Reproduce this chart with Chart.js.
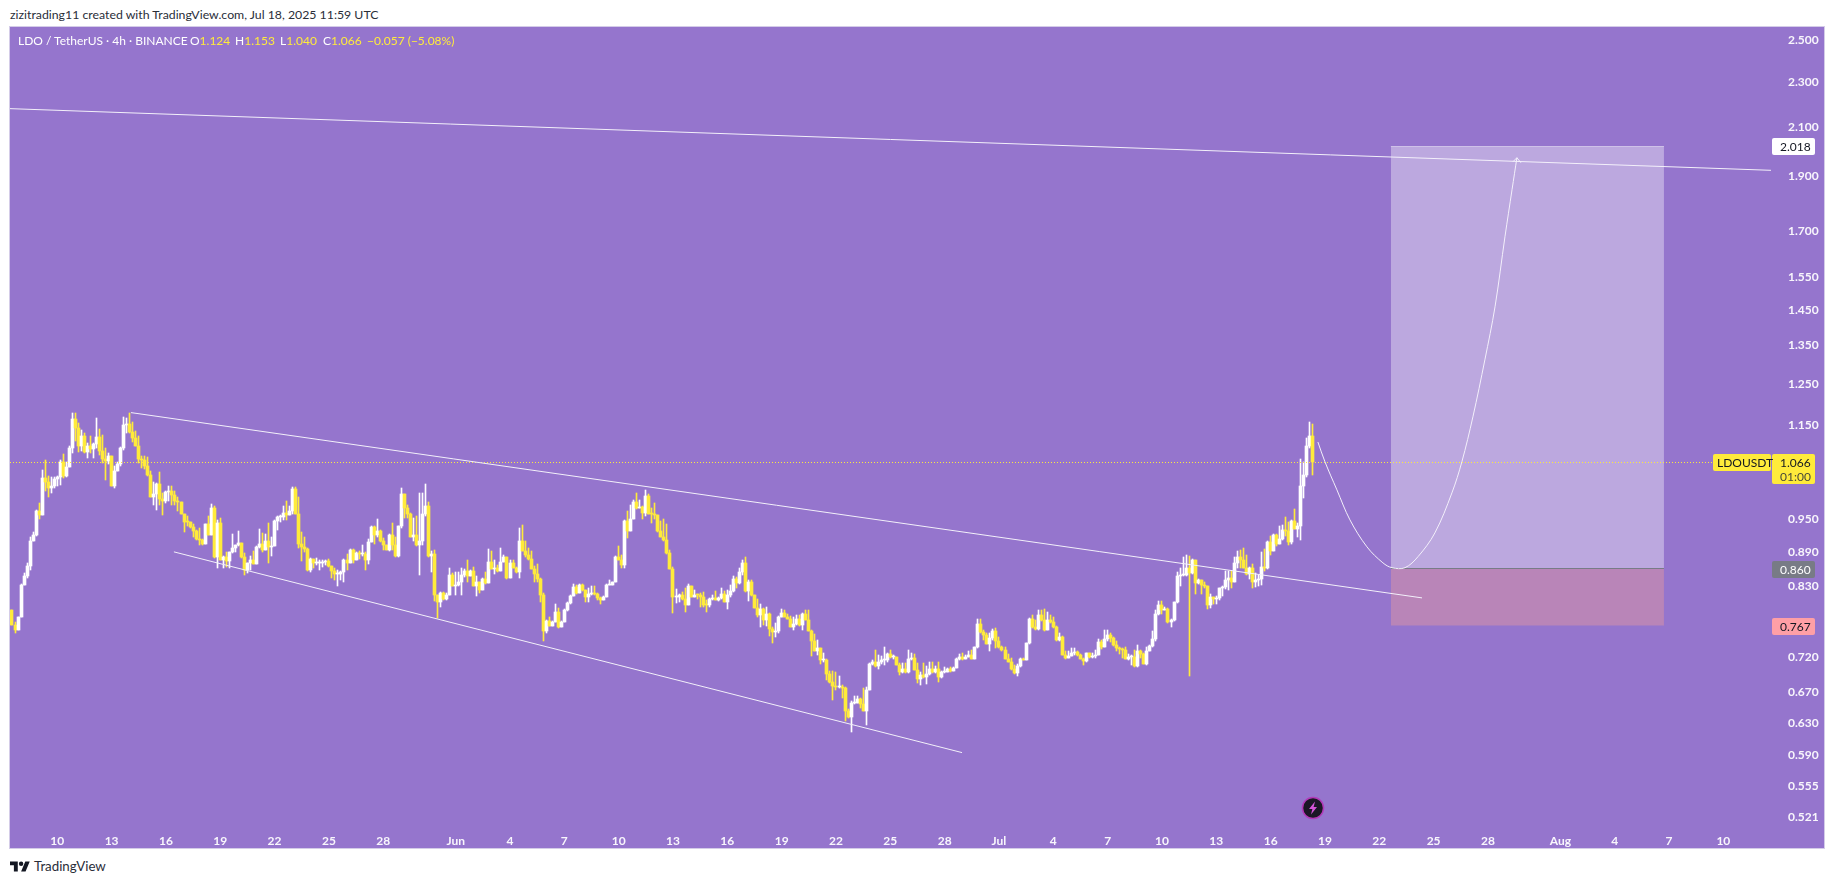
<!DOCTYPE html>
<html>
<head>
<meta charset="utf-8">
<title>LDOUSDT</title>
<script src="https://cdn.jsdelivr.net/npm/chart.js@4/dist/chart.umd.min.js"></script>
<style>
html,body{margin:0;padding:0;background:#fff;width:1835px;height:884px;overflow:hidden;font-family:Lato,sans-serif}
#pane{position:absolute;left:10px;top:27px;width:1814px;height:821px;background:#9575cd;box-shadow:0 0 0 1px #d4cce8}
canvas{display:block}
.t{position:absolute;white-space:nowrap}
#credit{left:10px;top:6px;font-size:12.3px;line-height:18px;color:#2a2e39}
.lg{top:32px;font-size:12px;line-height:18px;color:#fff}
.y{color:#ffeb3b}
#brand{left:34px;top:856px;font-size:13.3px;line-height:20px;color:#2a2e39}
</style>
</head>
<body>
<div class="t" id="credit">zizitrading11 created with TradingView.com, Jul 18, 2025 11:59 UTC</div>
<div id="pane"><canvas id="c" width="1814" height="821"></canvas></div>
<div class="t lg" style="left:18px">LDO / TetherUS · 4h · BINANCE</div>
<div class="t lg" style="left:190px">O<span class="y">1.124</span></div>
<div class="t lg" style="left:235px">H<span class="y">1.153</span></div>
<div class="t lg" style="left:280px">L<span class="y">1.040</span></div>
<div class="t lg" style="left:323px">C<span class="y">1.066</span></div>
<div class="t lg y" style="left:367px">−0.057 (−5.08%)</div>
<svg class="t" style="left:10px;top:859px" width="20" height="16" viewBox="0 0 36 28"><path fill="#131722" d="M14 22H7V11H0V4h14v18zM28 22h-8l7.5-18h8L28 22z"/><circle fill="#131722" cx="20" cy="8" r="4"/></svg>
<div class="t" id="brand">TradingView</div>
<svg class="t" style="left:1301px;top:796px" width="24" height="24" viewBox="0 0 24 24"><circle cx="12" cy="12" r="10.5" fill="#1b1726" stroke="#b23ab8" stroke-width="1.5"/><path fill="#d455d8" d="M14 5.5 8 13h3.4L10 18.5 16 11h-3.4z"/></svg>
<script>
const firstOpen = 0.791;
const closes = [
.768,.760,.780,.833,.848,.865,.910,.921,.966,.959,
1.034,1.025,1.012,1.016,1.032,1.035,1.068,1.038,1.056,1.098,
1.165,1.144,1.101,1.124,1.089,1.103,1.096,1.107,1.122,1.092,
1.074,1.070,1.081,1.016,1.048,1.063,1.098,1.150,1.153,1.134,
1.121,1.103,1.074,1.071,1.059,1.039,.994,1.001,1.021,.991,
.987,1.005,1.007,.999,.987,.984,.961,.946,.945,.935,
.929,.914,.912,.905,.942,.921,.973,.880,.943,.876,
.881,.874,.889,.897,.902,.906,.880,.858,.870,.876,
.869,.899,.905,.894,.910,.898,.900,.948,.954,.955,
.963,.959,.966,1.011,.960,.905,.899,.896,.858,.878,
.870,.871,.871,.872,.873,.865,.857,.851,.851,.855,
.876,.870,.894,.875,.888,.887,.887,.875,.908,.936,
.921,.929,.909,.903,.894,.921,.903,.882,.937,1.001,
.972,.961,.918,.920,.903,.909,.961,.976,.882,.886,
.815,.804,.819,.809,.816,.850,.830,.832,.838,.850,
.857,.848,.857,.831,.837,.824,.842,.836,.872,.860,
.862,.857,.872,.880,.844,.870,.862,.854,.910,.892,
.885,.877,.860,.851,.843,.816,.759,.774,.767,.773,
.789,.764,.773,.792,.802,.814,.829,.819,.833,.824,
.813,.818,.819,.818,.811,.808,.813,.833,.833,.837,
.880,.876,.867,.947,.929,.952,.985,.972,.974,.962,
.997,.961,.960,.959,.929,.918,.911,.888,.860,.812,
.813,.816,.809,.800,.831,.813,.816,.815,.813,.800,
.799,.809,.811,.808,.811,.818,.805,.816,.823,.842,
.836,.854,.870,.822,.838,.815,.795,.784,.793,.776,
.785,.762,.757,.758,.781,.786,.781,.777,.765,
.769,.777,.768,.785,.776,.759,.743,.729,.733,.716,
.716,.696,.684,.679,.677,.678,.676,.646,.637,.656,
.656,.661,.655,.646,.674,.710,.712,.707,.713,.715,
.716,.724,.720,.720,.708,.698,.702,.698,.717,.719,
.701,.689,.694,.691,.695,.703,.698,.703,.691,.698,
.698,.702,.699,.704,.717,.720,.717,.720,.723,.717,
.734,.770,.757,.753,.739,.748,.759,.743,.734,.730,
.717,.712,.702,.697,.707,.717,.716,.740,.777,.764,
.761,.784,.775,.760,.776,.772,.764,.745,.749,.723,
.718,.721,.726,.727,.722,.717,.714,.725,.720,.721,
.723,.742,.735,.746,.753,.748,.737,.733,.731,.730,
.717,.720,.720,.707,.728,.724,.710,.729,.736,.747,
.785,.799,.792,.793,.772,.776,.805,.847,.849,.850,
.862,.853,.876,.835,.841,.832,.830,.799,.813,.809,
.811,.827,.829,.841,.844,.838,.870,.881,.876,.862,
.851,.862,.837,.840,.842,.863,.862,.908,.891,.921,
.905,.913,.931,.928,.908,.948,.932,.938,1.017,1.039,
1.101,1.124,1.066];
const highs = [
.792,.772,.780,.834,.853,.870,.918,.926,.969,.982,
1.051,1.071,1.038,1.036,1.035,1.038,1.072,1.085,1.068,1.101,
1.178,1.178,1.154,1.139,1.131,1.109,1.124,1.109,1.166,1.141,
1.127,1.098,1.087,1.081,1.059,1.066,1.100,1.168,1.166,1.178,
1.156,1.135,1.124,1.081,1.079,1.078,1.048,1.024,1.023,1.045,
1.002,1.006,1.016,1.017,1.006,.995,.985,.961,.956,.946,
.941,.931,.934,.914,.942,.957,.981,.976,.950,.953,
.882,.889,.890,.923,.903,.929,.906,.888,.871,.882,
.891,.900,.932,.924,.923,.943,.918,.950,.957,.959,
.976,.987,.976,1.014,1.014,.994,.927,.917,.897,.879,
.876,.879,.875,.876,.876,.877,.865,.861,.858,.857,
.877,.887,.895,.896,.890,.891,.903,.890,.913,.938,
.937,.951,.931,.915,.903,.922,.943,.918,.938,1.012,
1.001,.979,.962,.953,.957,1.002,1.002,1.021,.985,.891,
.894,.816,.820,.820,.819,.861,.853,.855,.854,.861,
.860,.876,.858,.863,.847,.838,.844,.855,.896,.891,
.876,.867,.897,.885,.880,.875,.875,.864,.934,.940,
.909,.897,.891,.865,.869,.844,.819,.776,.781,.774,
.801,.794,.774,.793,.805,.816,.834,.832,.834,.834,
.824,.827,.830,.831,.819,.812,.814,.834,.840,.838,
.883,.900,.885,.950,.966,.979,.989,1.002,.989,.976,
1.009,1.001,.972,.982,.959,.948,.951,.942,.894,.863,
.826,.818,.820,.827,.834,.831,.824,.818,.819,.820,
.808,.811,.816,.822,.812,.827,.822,.824,.833,.848,
.846,.861,.876,.881,.841,.840,.815,.809,.801,.794,
.796,.787,.765,.771,.782,.793,.792,.785,.782,
.781,.784,.784,.787,.792,.792,.760,.754,.745,.733,
.726,.717,.699,.699,.698,.693,.680,.677,.648,.658,
.665,.665,.662,.676,.678,.711,.716,.730,.723,.721,
.734,.725,.730,.723,.720,.711,.711,.711,.730,.725,
.724,.711,.698,.711,.707,.713,.712,.707,.713,.699,
.705,.704,.706,.706,.718,.724,.725,.722,.728,.730,
.735,.777,.777,.760,.756,.755,.762,.763,.750,.736,
.734,.724,.718,.708,.710,.718,.718,.741,.778,.784,
.776,.792,.792,.793,.789,.784,.780,.766,.755,.751,
.728,.728,.733,.733,.728,.724,.719,.726,.726,.725,
.730,.746,.745,.760,.760,.755,.750,.743,.735,.733,
.734,.724,.723,.730,.738,.730,.726,.735,.738,.758,
.792,.806,.806,.797,.794,.777,.805,.854,.861,.881,
.884,.882,.877,.876,.842,.841,.838,.830,.818,.813,
.814,.828,.831,.857,.856,.856,.881,.891,.894,.897,
.885,.864,.869,.853,.850,.890,.895,.910,.919,.923,
.923,.937,.940,.954,.946,.950,.971,.943,1.073,1.068,
1.120,1.157,1.153];
const lows = [
.768,.756,.760,.780,.832,.845,.858,.909,.919,.951,
.959,1.006,.995,1.002,1.012,1.017,1.019,1.034,1.036,1.056,
1.087,1.114,1.088,1.090,1.087,1.075,1.087,1.076,1.098,1.083,
1.065,1.028,1.063,1.016,1.012,1.047,1.058,1.094,1.131,1.131,
1.112,1.103,1.065,1.054,1.052,1.038,.994,.979,.969,.979,
.959,.982,.987,.979,.979,.966,.961,.927,.937,.934,
.918,.912,.903,.903,.905,.921,.921,.879,.861,.876,
.861,.864,.861,.888,.889,.900,.879,.850,.853,.858,
.869,.869,.897,.890,.893,.870,.882,.900,.931,.946,
.950,.950,.959,.961,.960,.897,.874,.889,.857,.855,
.861,.867,.858,.864,.867,.864,.844,.841,.830,.841,
.838,.858,.870,.871,.877,.877,.883,.858,.869,.908,
.905,.918,.908,.894,.893,.891,.894,.881,.881,.934,
.953,.953,.917,.909,.901,.850,.903,.956,.881,.855,
.806,.778,.797,.807,.808,.816,.830,.816,.831,.816,
.846,.837,.848,.830,.814,.819,.824,.834,.836,.860,
.851,.855,.857,.872,.842,.844,.861,.853,.844,.891,
.881,.876,.860,.838,.838,.805,.744,.755,.766,.766,
.772,.763,.764,.772,.790,.801,.814,.818,.820,.823,
.804,.804,.816,.816,.808,.801,.807,.813,.832,.832,
.837,.875,.861,.861,.915,.929,.952,.971,.972,.951,
.956,.961,.943,.952,.927,.917,.910,.887,.860,.786,
.802,.804,.808,.789,.800,.812,.812,.809,.797,.797,
.789,.797,.807,.807,.806,.810,.804,.793,.813,.820,
.827,.834,.850,.820,.806,.814,.794,.781,.764,.768,
.766,.751,.741,.750,.756,.780,.780,.777,.764,
.760,.768,.766,.760,.775,.759,.721,.728,.723,.710,
.713,.687,.683,.660,.674,.676,.662,.632,.636,.619,
.654,.656,.649,.645,.628,.674,.708,.706,.702,.710,
.708,.713,.719,.717,.708,.694,.697,.697,.697,.716,
.701,.683,.680,.690,.682,.694,.697,.697,.685,.690,
.697,.698,.698,.699,.705,.716,.716,.717,.720,.717,
.717,.733,.755,.745,.739,.729,.745,.733,.733,.729,
.717,.712,.701,.696,.692,.706,.715,.716,.739,.763,
.760,.760,.774,.759,.760,.771,.763,.744,.744,.722,
.717,.718,.721,.723,.721,.717,.708,.713,.719,.718,
.718,.722,.731,.734,.743,.742,.736,.729,.724,.718,
.717,.715,.708,.706,.705,.718,.709,.708,.728,.735,
.744,.784,.785,.792,.771,.764,.774,.802,.830,.847,
.848,.692,.851,.818,.834,.818,.827,.793,.794,.801,
.801,.807,.814,.825,.824,.828,.837,.861,.862,.861,
.850,.843,.828,.829,.831,.833,.857,.860,.884,.891,
.900,.905,.911,.919,.903,.905,.932,.917,.911,.992,
1.036,1.098,1.040];
if (closes.length !== highs.length || closes.length !== lows.length) throw new Error('len ' + closes.length + ' ' + highs.length + ' ' + lows.length);

// Time is in days since 1 May 2025; the last candle opened on 18 Jul at 08:00.
const lastCandleDay = 78.333;
const candlesPerDay = 6;
const xMin = 6.39, xMax = 103.63;
const yMin = 0.5179, yMax = 2.5684;

const xTickDays = [9,12,15,18,21,24,27,31,34,37,40,43,46,49,52,55,58,61,64,67,70,73,76,79,82,85,88,92,95,98,101];
const xTickLabels = ['10','13','16','19','22','25','28','Jun','4','7','10','13','16','19','22','25','28','Jul','4','7','10','13','16','19','22','25','28','Aug','4','7','10'];
const yTicks = [2.5,2.3,2.1,1.9,1.7,1.55,1.45,1.35,1.25,1.15,0.95,0.89,0.83,0.72,0.67,0.63,0.59,0.555,0.521];

const lastPrice = 1.066;
const targetPrice = 2.018, entryPrice = 0.860, stopPrice = 0.767;
const zoneDays = [82.64, 97.72];
const priceLineDays = [xMin, 100.42];

const topLineDays = [6.39, 103.63],   topLinePrices = [2.178, 1.923];
const upperLineDays = [13.07, 84.36], upperLinePrices = [1.179, 0.811];
const lowerLineDays = [15.44, 58.96], lowerLinePrices = [0.890, 0.5934];

const pathDays = [78.61,79.0,79.66,80.38,81.32,82.2,82.7,83.42,84.14,85.07,86.01,86.56,87.17,87.83,88.39,88.94,89.33,89.6];
const pathPrices = [1.111,1.0675,1.0087,0.9494,0.899,0.8705,0.862,0.862,0.8815,0.9247,1.0025,1.0675,1.169,1.3115,1.4597,1.6815,1.849,1.9725];
const arrowDays = [89.38,89.6,89.82];
const arrowPrices = [1.9566,1.9725,1.9527];

const UP = '#ffffff', DOWN = '#ffeb3b';
const FONT = 'Lato, sans-serif';

const opens = closes.map((_, i) => i === 0 ? firstOpen : closes[i - 1]);
const days = closes.map((_, i) => lastCandleDay - (closes.length - 1 - i) / candlesPerDay);
const candleColors = closes.map((c, i) => c >= opens[i] ? UP : DOWN);

const pair = (xs, ys) => xs.map((x, i) => ({x, y: ys[i]}));
const flat = (xs, v) => xs.map(x => ({x, y: v}));
const lineDs = (data, extra) => Object.assign({type:'line', data, borderColor:'#f3f0fa', borderWidth:1, pointRadius:0, fill:false, tension:0, order:0}, extra);

const priceTags = [
  {value: targetPrice, text:'2.018', bg:'#ffffff', fg:'#131722'},
  {value: entryPrice,  text:'0.860', bg:'#787b86', fg:'#ffffff'},
  {value: stopPrice,   text:'0.767', bg:'#ff9fa6', fg:'#131722'}
];

// Snap candles and horizontal level lines to whole pixels so they stay crisp.
const crispMarks = {
  id:'crispMarks',
  beforeDatasetsDraw(chart){
    chart.getSortedVisibleDatasetMetas().forEach(m => {
      if (m.type === 'bar') {
        m.data.forEach(el => {
          el.x = Math.floor(el.x) + 0.5;
          el.y = Math.round(el.y);
          el.base = Math.round(el.base);
        });
      } else if (m._dataset.levelLine) {
        m.data.forEach(p => { p.y = Math.floor(p.y) + 0.5; });
      }
    });
  }
};

const tags = {
  id:'tags',
  afterDraw(chart){
    const c = chart.ctx, y = chart.scales.y, r = chart.chartArea.right;
    c.save();
    c.font = '12px ' + FONT;
    c.textBaseline = 'middle';
    const box = (x, top, w, h, col) => { c.fillStyle = col; c.beginPath(); c.roundRect(x, top, w, h, 2); c.fill(); };
    priceTags.forEach(t => {
      const py = Math.round(y.getPixelForValue(t.value));
      box(r + 1, py - 8, 43, 17, t.bg);
      c.fillStyle = t.fg; c.textAlign = 'left';
      c.fillText(t.text, r + 9, py + 1);
    });
    const py = Math.round(y.getPixelForValue(lastPrice));
    box(r + 1, py - 8, 43, 30, DOWN);
    box(r - 58, py - 8, 58, 17, DOWN);
    c.fillStyle = '#131722'; c.textAlign = 'left';
    c.fillText('1.066', r + 9, py + 1);
    c.fillText('LDOUSDT', r - 54, py + 1);
    c.fillStyle = '#4a4a3a';
    c.fillText('01:00', r + 9, py + 15);
    c.restore();
  }
};

new Chart(document.getElementById('c'), {
  type:'bar',
  plugins:[crispMarks, tags],
  data:{
    datasets:[
      lineDs(pair(topLineDays, topLinePrices), {}),
      lineDs(pair(upperLineDays, upperLinePrices), {}),
      lineDs(pair(lowerLineDays, lowerLinePrices), {}),
      lineDs(pair(pathDays, pathPrices), {tension:0.35}),
      lineDs(pair(arrowDays, arrowPrices), {}),
      lineDs(flat(priceLineDays, lastPrice), {borderColor:DOWN, borderDash:[1,2], order:1, levelLine:true}),
      {type:'bar', label:'bodies', data:days.map((x,i)=>({x, y:[opens[i], closes[i]]})), backgroundColor:candleColors, barThickness:3, minBarLength:1, grouped:false, borderWidth:0, order:2},
      {type:'bar', label:'wicks', data:days.map((x,i)=>({x, y:[Math.min(lows[i],opens[i],closes[i]), Math.max(highs[i],opens[i],closes[i])]})), backgroundColor:candleColors, barThickness:1, grouped:false, borderWidth:0, order:3},
      lineDs(flat(zoneDays, entryPrice), {borderColor:'#787b86', order:4, levelLine:true}),
      lineDs(flat(zoneDays, targetPrice), {borderColor:'rgba(255,255,255,0.45)', backgroundColor:'rgba(255,255,255,0.37)', fill:{value:entryPrice}, order:5, levelLine:true}),
      lineDs(flat(zoneDays, entryPrice), {borderWidth:0, backgroundColor:'rgba(255,165,145,0.34)', fill:{value:stopPrice}, order:5})
    ]
  },
  options:{
    responsive:false, animation:false, events:[], devicePixelRatio:1,
    layout:{padding:0},
    plugins:{legend:{display:false}, tooltip:{enabled:false}, title:{display:false}},
    scales:{
      x:{
        type:'linear', min:xMin, max:xMax, offset:false,
        grid:{display:false}, border:{display:false},
        afterBuildTicks(s){ s.ticks = xTickDays.map(value => ({value})); },
        afterFit(s){ s.height = 28; s.paddingLeft = 0; s.paddingRight = 0; },
        ticks:{autoSkip:false, maxRotation:0, minRotation:0, color:'#f8f6fc', padding:6,
          font:{family:FONT, size:12, weight:'700'},
          callback(v){ const i = xTickDays.indexOf(v); return i < 0 ? '' : xTickLabels[i]; }}
      },
      y:{
        type:'logarithmic', position:'right', min:yMin, max:yMax,
        grid:{display:false}, border:{display:false},
        afterBuildTicks(s){ s.ticks = yTicks.map(value => ({value})); },
        afterFit(s){ s.width = 53; s.paddingTop = 0; s.paddingBottom = 0; },
        ticks:{autoSkip:false, color:'#f8f6fc', padding:9, drawTicks:false,
          font:{family:FONT, size:12, weight:'700'},
          callback(v){ return Number(v).toFixed(3); }}
      }
    }
  }
});
</script>
</body>
</html>
